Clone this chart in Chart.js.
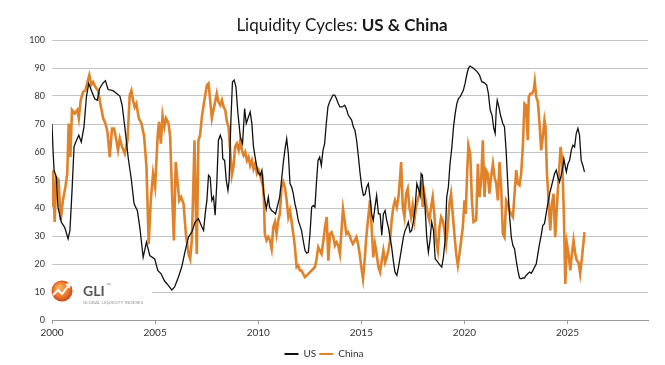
<!DOCTYPE html>
<html>
<head>
<meta charset="utf-8">
<title>Liquidity Cycles: US &amp; China</title>
<script src="https://cdn.jsdelivr.net/npm/chart.js@4"></script>
<style>
  html, body { margin: 0; padding: 0; background: #fff; }
</style>
</head>
<body>
<canvas id="chart" width="665" height="365"></canvas>
<script>
  // values: [decimal year, index value]
  const usSeries = [
    [2000.00,70],[2000.05,60.6],[2000.10,53.5],[2000.21,51],[2000.29,40.3],[2000.45,35],[2000.62,33],[2000.78,29],[2000.87,32],[2000.97,46],
    [2001.07,62],[2001.18,64],[2001.30,66],[2001.42,63.6],[2001.55,69],[2001.67,79.7],[2001.78,84.5],[2001.91,82],
    [2002.07,79],[2002.20,78.5],[2002.31,82.7],[2002.48,84.7],[2002.59,85.5],[2002.72,82.3],[2002.96,81.9],
    [2003.12,81],[2003.29,80],[2003.40,76.7],[2003.53,69],[2003.69,58.2],[2003.85,50],[2003.98,41.5],
    [2004.14,39],[2004.26,33],[2004.42,22.4],[2004.58,27.8],[2004.74,23],[2004.98,21.8],
    [2005.13,17.7],[2005.29,16.5],[2005.45,14],[2005.65,12.3],[2005.81,10.7],[2005.94,11.7],
    [2006.10,14.7],[2006.29,18.9],[2006.46,24.8],[2006.62,29.6],[2006.78,31.4],[2006.94,35],
    [2007.10,36.2],[2007.27,33.2],[2007.35,32],[2007.43,38],[2007.51,42.7],[2007.59,51.7],[2007.67,51],[2007.75,42.7],[2007.83,44],[2007.91,37.4],[2007.99,48.7],
    [2008.07,64.2],[2008.16,66],[2008.24,64.2],[2008.28,57.6],[2008.37,57],[2008.45,49.9],[2008.53,46.3],[2008.59,49.9],[2008.67,70.2],[2008.75,85],[2008.83,85.7],[2008.92,83.3],
    [2009.01,74.3],[2009.13,65.4],[2009.24,63],[2009.34,75.5],[2009.42,70.2],[2009.53,72.6],[2009.61,74.3],[2009.69,70.2],[2009.77,61.8],[2009.89,56.4],[2009.98,52.9],
    [2010.10,51.7],[2010.18,53.5],[2010.27,45],[2010.39,39.7],[2010.49,43.9],[2010.55,40.3],[2010.65,39.1],[2010.76,38.5],[2010.84,37.9],[2010.92,40.3],
    [2011.04,43.9],[2011.13,49.9],[2011.21,55.8],[2011.29,60.6],[2011.38,64.8],[2011.46,59.4],[2011.54,48.7],[2011.62,47.5],[2011.70,45.1],[2011.78,41.5],[2011.86,39.1],[2011.94,35.6],
    [2012.02,33.8],[2012.10,32],[2012.18,28.4],[2012.27,24.8],[2012.35,23.9],[2012.43,24.2],[2012.51,30.8],[2012.59,40.3],[2012.67,40.9],[2012.75,40.3],[2012.82,48.7],[2012.90,57],[2012.98,58.2],
    [2013.06,55.2],[2013.14,60.6],[2013.22,63],[2013.30,70.2],[2013.38,76.1],[2013.46,77.9],[2013.54,79.1],[2013.62,80.3],[2013.71,80.3],[2013.79,79.1],[2013.88,77.3],[2013.96,76.1],
    [2014.08,76.1],[2014.19,76.7],[2014.27,75.5],[2014.37,73.1],[2014.45,72.3],[2014.53,71.4],[2014.61,69],[2014.69,67.8],[2014.77,64.2],[2014.86,58.2],[2014.94,52.3],
    [2015.02,47.5],[2015.10,44.5],[2015.18,44.9],[2015.26,47.5],[2015.34,48.7],[2015.42,43.9],[2015.50,37.9],[2015.58,35.6],[2015.66,40.3],[2015.74,44.5],[2015.83,37.9],[2015.91,37.9],[2015.99,30.2],
    [2016.07,37.9],[2016.15,39.1],[2016.23,35.6],[2016.31,33.2],[2016.39,29.6],[2016.47,26],[2016.55,21.2],[2016.63,17.1],[2016.72,15.9],[2016.80,18.9],[2016.88,22.4],[2016.96,26],
    [2017.04,29.6],[2017.12,32],[2017.20,33.2],[2017.28,35],[2017.36,31.4],[2017.44,32],[2017.52,35],[2017.61,40.3],[2017.69,48.7],[2017.77,46.9],[2017.85,44.5],[2017.90,52.3],[2017.96,51.7],
    [2018.03,45.1],[2018.09,40.3],[2018.17,29.6],[2018.25,24.2],[2018.33,28.4],[2018.41,35],[2018.50,32],[2018.58,21.8],[2018.66,21.2],[2018.74,20.3],[2018.82,19.5],[2018.90,18.9],[2018.98,22.4],
    [2019.06,28.4],[2019.14,43.9],[2019.22,47.5],[2019.30,55.8],[2019.39,61.8],[2019.47,69],[2019.55,73.7],[2019.63,77.3],[2019.71,79.1],[2019.79,79.7],[2019.87,80.9],[2019.95,82.1],
    [2020.03,84.5],[2020.11,87.5],[2020.19,89.9],[2020.27,90.7],[2020.44,89.9],[2020.61,88.7],[2020.73,87.5],[2020.84,85.1],[2020.97,84.7],
    [2021.08,83.9],[2021.16,80.9],[2021.25,74.9],[2021.34,73.1],[2021.42,68.4],[2021.49,66.6],[2021.54,74.9],[2021.59,78.5],[2021.67,76.1],[2021.75,73.1],[2021.86,70.2],[2021.94,69],
    [2022.02,60.6],[2022.10,48.7],[2022.18,37.9],[2022.27,29.6],[2022.35,26.6],[2022.43,25.4],[2022.51,21.2],[2022.59,17.7],[2022.67,15],[2022.75,14.7],[2022.83,15],[2022.91,15],[2022.99,15.9],
    [2023.07,16.5],[2023.16,17.1],[2023.24,16.7],[2023.32,17.7],[2023.40,18.9],[2023.48,20],[2023.56,23.6],[2023.64,27.2],[2023.72,30.2],[2023.80,33.8],[2023.88,34.4],[2023.96,37.9],
    [2024.04,41.5],[2024.13,45.1],[2024.21,47.5],[2024.29,49.9],[2024.37,52.3],[2024.45,53.5],[2024.53,51],[2024.61,49.3],[2024.69,51.7],[2024.77,54.7],[2024.82,57.6],[2024.89,54.7],[2024.94,52.9],
    [2025.02,55.8],[2025.10,57],[2025.18,60.6],[2025.26,62.4],[2025.34,61.8],[2025.42,66.6],[2025.50,68.4],[2025.58,66],[2025.66,57],[2025.74,55.2],[2025.82,52.9]
  ];

  const chinaSeries = [
    [2000.00,40.3],[2000.05,53.5],[2000.13,35],[2000.21,51],[2000.32,50],[2000.42,35.6],[2000.53,42.7],[2000.65,47.5],[2000.74,52.3],[2000.81,70.2],[2000.89,58.2],[2000.97,75],
    [2001.10,73.7],[2001.23,75],[2001.30,72],[2001.39,78.5],[2001.51,81.5],[2001.62,82],[2001.72,85],[2001.81,87.5],[2001.91,84],[2001.99,85],
    [2002.10,83.3],[2002.23,82],[2002.36,76.7],[2002.48,72],[2002.59,70.2],[2002.69,67.2],[2002.80,58.2],[2002.91,68.4],
    [2003.01,68.4],[2003.12,64.2],[2003.20,60.6],[2003.29,64.8],[2003.40,61.8],[2003.53,59.4],[2003.66,64.2],[2003.77,80.3],[2003.85,82],[2003.93,78.5],
    [2004.01,76],[2004.09,77.3],[2004.21,72],[2004.34,70.2],[2004.47,65.4],[2004.58,54.7],[2004.69,27.2],[2004.79,42.7],[2004.90,52.3],
    [2005.00,47.5],[2005.13,66.6],[2005.19,70.8],[2005.28,63],[2005.36,73.1],[2005.45,69],[2005.53,72],[2005.65,70.2],[2005.73,65.4],[2005.81,47.5],[2005.91,28.4],
    [2006.00,56.4],[2006.08,49.9],[2006.17,42.7],[2006.26,43.9],[2006.38,41.5],[2006.49,30.8],[2006.62,23.6],[2006.70,21.8],[2006.78,28.4],[2006.86,49.9],[2006.91,64.2],[2006.97,40.3],
    [2007.02,23.6],[2007.10,64.2],[2007.18,66],[2007.27,72.6],[2007.35,76.7],[2007.43,80.3],[2007.51,83.9],[2007.59,84.5],[2007.67,78.5],[2007.75,72],[2007.83,75],[2007.91,77.9],[2007.99,80.9],
    [2008.07,77.9],[2008.16,76.7],[2008.24,78.5],[2008.32,76.1],[2008.40,75],[2008.48,70.8],[2008.56,69],[2008.64,60.6],[2008.72,51.7],[2008.80,54.7],[2008.88,61.8],[2008.96,63],
    [2009.05,60.6],[2009.13,64.2],[2009.21,60.6],[2009.29,58.8],[2009.37,60],[2009.45,57],[2009.53,58.2],[2009.61,55.2],[2009.69,57],[2009.77,54],[2009.85,55.8],[2009.94,52.3],
    [2010.02,53.5],[2010.15,49.9],[2010.19,52.3],[2010.27,43.9],[2010.32,30.8],[2010.40,28.4],[2010.49,29.6],[2010.57,28.4],[2010.65,25.4],[2010.73,33.2],[2010.81,35],[2010.89,30.8],[2010.97,35.6],
    [2011.05,37.9],[2011.13,47.5],[2011.21,49.3],[2011.29,47.5],[2011.38,42.7],[2011.46,36.8],[2011.54,39.1],[2011.62,35],[2011.70,30.8],[2011.78,26],[2011.86,18.9],[2011.94,19.5],
    [2012.02,17.7],[2012.10,17.7],[2012.18,16.5],[2012.27,15.3],[2012.35,15.9],[2012.43,16.5],[2012.51,17.1],[2012.59,17.7],[2012.67,18.3],[2012.75,18.9],[2012.83,21.8],[2012.91,26],[2012.99,24.8],
    [2013.07,23.6],[2013.16,28.4],[2013.24,33.2],[2013.32,36.8],[2013.40,21.2],[2013.48,30.8],[2013.56,31.4],[2013.64,29.6],[2013.72,26.6],[2013.80,27.8],[2013.88,26.6],[2013.96,23.6],
    [2014.05,33.2],[2014.11,39.7],[2014.19,35.6],[2014.27,30.8],[2014.35,31.4],[2014.43,30.2],[2014.51,28.4],[2014.59,27.2],[2014.68,28.4],[2014.76,29.6],[2014.84,27.2],[2014.92,23.6],
    [2015.00,18.9],[2015.08,14.7],[2015.16,21.2],[2015.24,29.6],[2015.32,35.6],[2015.42,42.7],[2015.50,33.2],[2015.58,22.4],[2015.66,27.2],[2015.74,23.6],[2015.83,18.9],[2015.91,17.1],[2015.99,21.2],
    [2016.07,24.8],[2016.15,20.6],[2016.23,22.4],[2016.31,24.8],[2016.39,28.4],[2016.47,35.6],[2016.55,40.3],[2016.63,42.7],[2016.72,40.3],[2016.80,43.9],[2016.88,51],[2016.93,56.4],
    [2017.01,40.3],[2017.09,36.8],[2017.17,45.1],[2017.25,46.9],[2017.33,40.3],[2017.41,36.8],[2017.49,40.9],[2017.57,35.6],[2017.65,40.3],[2017.73,42.7],[2017.82,45.1],[2017.90,49.9],[2017.98,40.3],
    [2018.06,45.1],[2018.14,41.5],[2018.22,37.9],[2018.30,35.6],[2018.38,40.3],[2018.46,43.9],[2018.54,37.9],[2018.62,28.4],[2018.71,24.8],[2018.79,33.2],[2018.87,36.8],[2018.95,35.6],
    [2019.03,32],[2019.11,27.2],[2019.19,33.2],[2019.27,41.5],[2019.35,45.1],[2019.43,37.9],[2019.51,30.8],[2019.60,23.6],[2019.68,19.5],[2019.76,23.6],[2019.84,28.4],[2019.92,33.2],
    [2020.00,42.7],[2020.06,37.9],[2020.13,52.3],[2020.19,62.4],[2020.28,59.4],[2020.36,42.7],[2020.44,35],[2020.57,35.6],[2020.65,55.8],[2020.73,43.9],[2020.81,49.9],[2020.89,64.2],[2020.97,43.9],
    [2021.05,53.5],[2021.13,52.3],[2021.21,45.1],[2021.29,51],[2021.38,55.8],[2021.46,51],[2021.54,48.7],[2021.62,42.7],[2021.70,56.4],[2021.78,47.5],[2021.86,30.8],[2021.94,29.6],
    [2022.02,42.7],[2022.10,41.5],[2022.18,39.1],[2022.27,37.9],[2022.35,36.8],[2022.43,45.1],[2022.51,53.5],[2022.59,48.7],[2022.67,48.1],[2022.75,52.3],[2022.83,61.8],[2022.91,77.3],[2022.99,76.7],
    [2023.07,64.2],[2023.12,79.7],[2023.20,80.9],[2023.28,80.9],[2023.36,82.1],[2023.41,85.1],[2023.48,79.7],[2023.56,77.9],[2023.64,70.2],[2023.72,60.6],[2023.80,65.4],[2023.88,71.4],[2023.93,69],
    [2024.00,52.3],[2024.08,42.7],[2024.16,32],[2024.24,41.5],[2024.32,45.1],[2024.40,29.6],[2024.48,40.3],[2024.56,49.9],[2024.66,61.8],[2024.74,57],[2024.82,37.9],[2024.89,12.9],[2024.97,27.2],
    [2025.05,23.6],[2025.13,17.7],[2025.21,23.6],[2025.29,28.4],[2025.37,23.6],[2025.45,21.2],[2025.53,20.6],[2025.61,16.5],[2025.70,22.4],[2025.82,31.4]
  ];

  const titleParts = ['Liquidity Cycles: ', 'US & China'];
  const seriesNames = ['US', 'China'];
  const yearTicks = [2000, 2005, 2010, 2015, 2020, 2025];

  const FONT = 'Lato, "Open Sans", sans-serif';
  const orange = '#e0822a';

  const titlePlugin = {
    id: 'mixedTitle',
    afterDraw(chart) {
      const ctx = chart.ctx;
      ctx.save();
      ctx.fillStyle = '#1a1a1a';
      ctx.textBaseline = 'alphabetic';
      ctx.font = '17px ' + FONT;
      const wa = ctx.measureText(titleParts[0]).width;
      ctx.font = 'bold 17px ' + FONT;
      const wb = ctx.measureText(titleParts[1]).width;
      let x = 342 - (wa + wb) / 2;
      ctx.font = '17px ' + FONT;
      ctx.fillText(titleParts[0], x, 31);
      ctx.font = 'bold 17px ' + FONT;
      ctx.fillText(titleParts[1], x + wa, 31);
      ctx.restore();
    }
  };

  // nudge the legend a little lower, like the original
  const legendShift = {
    id: 'legendShift',
    afterLayout(chart) {
      if (chart.legend) {
        chart.legend.top += 4;
        chart.legend.bottom += 4;
      }
    }
  };

  // GLI logo in the lower left corner of the plot
  const logoPlugin = {
    id: 'gliLogo',
    beforeDatasetsDraw(chart) {
      const ctx = chart.ctx;
      const a = chart.chartArea;
      ctx.save();
      ctx.fillStyle = '#fff';
      ctx.fillRect(a.left, a.bottom - 50, 100, 44);
      const cx = a.left + 10, cy = a.bottom - 29;
      const g = ctx.createRadialGradient(cx - 3, cy - 4, 1, cx, cy, 11);
      g.addColorStop(0, '#fbb45c');
      g.addColorStop(0.6, '#ee7a2a');
      g.addColorStop(1, '#c9421c');
      ctx.fillStyle = g;
      ctx.beginPath();
      ctx.arc(cx, cy, 10.5, 0, Math.PI * 2);
      ctx.fill();
      ctx.strokeStyle = '#fff';
      ctx.lineWidth = 2;
      ctx.beginPath();
      ctx.moveTo(cx - 9, cy + 4);
      ctx.lineTo(cx - 4, cy - 1);
      ctx.lineTo(cx, cy + 3);
      ctx.lineTo(cx + 7, cy - 6);
      ctx.stroke();
      ctx.fillStyle = '#fff';
      ctx.beginPath();
      ctx.moveTo(cx + 9, cy - 8);
      ctx.lineTo(cx + 3, cy - 7);
      ctx.lineTo(cx + 8, cy - 2);
      ctx.fill();
      ctx.fillStyle = '#555';
      ctx.font = 'bold 14px ' + FONT;
      ctx.textBaseline = 'alphabetic';
      ctx.fillText('GLI', a.left + 31, cy + 5);
      ctx.font = '5px ' + FONT;
      ctx.fillText('™', a.left + 55, cy - 4);
      ctx.fillStyle = '#999';
      ctx.font = '4.5px ' + FONT;
      ctx.fillText('GLOBAL LIQUIDITY INDEXES', a.left + 31, cy + 13);
      ctx.restore();
    }
  };

  const ctx = document.getElementById('chart').getContext('2d');
  const chart = new Chart(ctx, {
    type: 'line',
    data: {
      datasets: [
        {
          label: seriesNames[0],
          data: usSeries.map(p => ({ x: p[0], y: p[1] })),
          borderColor: '#111',
          backgroundColor: '#111',
          borderWidth: 1.3,
          pointRadius: 0,
          tension: 0
        },
        {
          label: seriesNames[1],
          data: chinaSeries.map(p => ({ x: p[0], y: p[1] })),
          borderColor: orange,
          backgroundColor: orange,
          borderWidth: 2.6,
          pointRadius: 0,
          tension: 0
        }
      ]
    },
    options: {
      responsive: false,
      animation: false,
      layout: { padding: { top: 40, right: 17, left: 0, bottom: 0 } },
      scales: {
        x: {
          type: 'linear',
          min: 2000,
          max: 2028.9,
          afterBuildTicks: scale => { scale.ticks = yearTicks.map(v => ({ value: v })); },
          ticks: {
            callback: v => String(v),
            font: { family: FONT, size: 10 },
            color: '#333',
            padding: 3,
            maxRotation: 0
          },
          grid: { drawOnChartArea: false, drawTicks: true, tickLength: 4, color: '#9a9a9a' },
          border: { display: true, color: '#9a9a9a' }
        },
        y: {
          min: 0,
          max: 100,
          afterFit: scale => { scale.width = 52; },
          ticks: {
            stepSize: 10,
            font: { family: FONT, size: 9 },
            color: '#333',
            padding: 7
          },
          grid: { color: '#c4c4c4', drawTicks: false },
          border: { display: false }
        }
      },
      plugins: {
        title: { display: false },
        tooltip: { enabled: false },
        legend: {
          position: 'bottom',
          labels: {
            font: { family: FONT, size: 10 },
            color: '#333',
            boxWidth: 14,
            boxHeight: 2,
            padding: 3,
            generateLabels: c => Chart.defaults.plugins.legend.labels.generateLabels(c).map(l => Object.assign(l, { lineWidth: 0 }))
          }
        }
      }
    },
    plugins: [titlePlugin, logoPlugin, legendShift]
  });
</script>
</body>
</html>
